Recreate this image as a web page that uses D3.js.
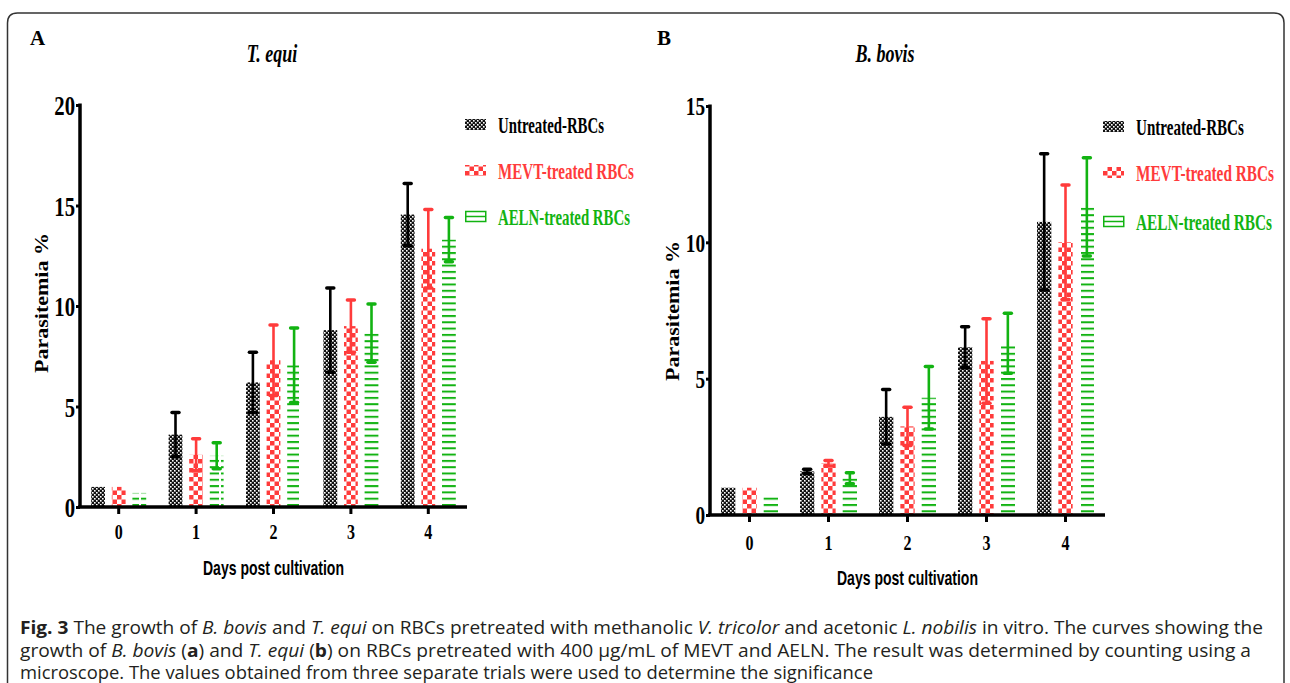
<!DOCTYPE html>
<html>
<head>
<meta charset="utf-8">
<script src="https://cdn.jsdelivr.net/npm/d3@7"></script>
<style>
  body { margin: 0; background: #fff; }
  svg { display: block; }
</style>
</head>
<body>
<script>
// Growth of T. equi (A) and B. bovis (B) on pretreated RBCs
const days = ["0", "1", "2", "3", "4"];
const seriesNames = ["Untreated-RBCs", "MEVT-treated RBCs", "AELN-treated RBCs"];

// panel A - T. equi, parasitemia %
const tequiUntreated = [1.0, 3.6, 6.2, 8.8, 14.55];
const tequiUntreatedErr = [0, 1.1, 1.5, 2.1, 1.55];
const tequiMevt = [1.0, 2.6, 7.3, 9.0, 12.85];
const tequiMevtErr = [0, 0.8, 1.75, 1.3, 1.95];
const tequiAeln = [0.7, 2.55, 7.05, 8.65, 13.3];
const tequiAelnErr = [0, 0.65, 1.85, 1.45, 1.1];
const tequiTicks = [0, 5, 10, 15, 20];

// panel B - B. bovis, parasitemia %
const bovisUntreated = [1.0, 1.6, 3.6, 6.15, 10.75];
const bovisUntreatedErr = [0, 0.08, 1.0, 0.75, 2.5];
const bovisMevt = [1.0, 1.9, 3.25, 5.65, 10.0];
const bovisMevtErr = [0, 0.1, 0.7, 1.55, 2.1];
const bovisAeln = [0.75, 1.35, 4.3, 6.3, 11.3];
const bovisAelnErr = [0, 0.2, 1.15, 1.1, 1.8];
const bovisTicks = [0, 5, 10, 15];

const colors = ["#000000", "#ff3b3b", "#12b312"];
const fills = ["url(#pat-black)", "url(#pat-red)", "url(#pat-green)"];

const width = 1290, height = 683;

const svg = d3.select("body").append("svg")
    .attr("width", width)
    .attr("height", height);

// Patterns for the bars
const defs = svg.append("defs");

const pb = defs.append("pattern").attr("id", "pat-black")
    .attr("patternUnits", "userSpaceOnUse").attr("width", 4).attr("height", 4);
pb.append("rect").attr("width", 4).attr("height", 4).attr("fill", "#111");
pb.append("rect").attr("x", 0).attr("y", 0).attr("width", 1.6).attr("height", 1.6).attr("fill", "#fff");
pb.append("rect").attr("x", 2).attr("y", 2).attr("width", 1.6).attr("height", 1.6).attr("fill", "#fff");

const pr = defs.append("pattern").attr("id", "pat-red")
    .attr("patternUnits", "userSpaceOnUse").attr("width", 9).attr("height", 9);
pr.append("rect").attr("width", 9).attr("height", 9).attr("fill", "#fff");
pr.append("rect").attr("x", 0).attr("y", 0).attr("width", 4.5).attr("height", 4.5).attr("fill", colors[1]);
pr.append("rect").attr("x", 4.5).attr("y", 4.5).attr("width", 4.5).attr("height", 4.5).attr("fill", colors[1]);

const pg = defs.append("pattern").attr("id", "pat-green")
    .attr("patternUnits", "userSpaceOnUse").attr("width", 20).attr("height", 6.3);
pg.append("rect").attr("x", 1).attr("y", 0).attr("width", 18).attr("height", 2).attr("fill", colors[2]);

// squeeze text to a given width (the original uses narrow fonts)
function fitWidth(sel, w) {
    sel.attr("textLength", w).attr("lengthAdjust", "spacingAndGlyphs");
}
function condense(sel, k) {
    sel.each(function () {
        const w = this.getComputedTextLength();
        d3.select(this).attr("textLength", w * k).attr("lengthAdjust", "spacingAndGlyphs");
    });
}
// horizontal scale so the real box matches the narrow look
function squeezeTo(sel, x, y, w) {
    sel.each(function () {
        const nat = this.getComputedTextLength();
        d3.select(this)
            .attr("x", 0).attr("y", 0)
            .attr("transform", `translate(${x},${y}) scale(${w / nat},1)`);
    });
}

// Outer frame (rounded top, open at bottom)
svg.append("path")
    .attr("d", "M7.5,700 L7.5,23 Q7.5,13 17.5,13 L1274,13 Q1284,13 1284,23 L1284,700")
    .attr("fill", "none")
    .attr("stroke", "#333")
    .attr("stroke-width", 1.5);

const panels = [
    {
        letter: "A", letterX: 30, title: "T. equi", titleX: 272,
        left: 80, right: 467, top: 105, bottom: 507, yMax: 20, ticks: tequiTicks,
        group: 55, tickFont: 28,
        means: [tequiUntreated, tequiMevt, tequiAeln],
        errs: [tequiUntreatedErr, tequiMevtErr, tequiAelnErr],
        legendX: 465, legendY: [125, 171, 217], legendW: [106, 136, 132],
        yLabelX: 42, yLabelY: 303, xLabelY: 575, xTickPad: 11
    },
    {
        letter: "B", letterX: 657, title: "B. bovis", titleX: 885,
        left: 710, right: 1105, top: 106, bottom: 515, yMax: 15, ticks: bovisTicks,
        group: 57, tickFont: 26,
        means: [bovisUntreated, bovisMevt, bovisAeln],
        errs: [bovisUntreatedErr, bovisMevtErr, bovisAelnErr],
        legendX: 1103, legendY: [127, 173, 222], legendW: [108, 138, 136],
        yLabelX: 673, yLabelY: 311, xLabelY: 585, xTickPad: 14
    }
];

panels.forEach(p => drawPanel(p));

function drawPanel(p) {
    const g = svg.append("g");

    const x = d3.scaleBand()
        .domain(days)
        .range([p.left, p.right]);

    const xs = d3.scaleBand()
        .domain(seriesNames)
        .range([x.bandwidth() / 2 - p.group / 2, x.bandwidth() / 2 + p.group / 2])
        .paddingInner(0.33);

    const y = d3.scaleLinear()
        .domain([0, p.yMax])
        .range([p.bottom, p.top]);

    // panel letter and title
    g.append("text")
        .attr("x", p.letterX).attr("y", 45)
        .attr("font-family", "Liberation Serif").attr("font-weight", "bold")
        .attr("font-size", 21)
        .text(p.letter);

    g.append("text")
        .attr("x", p.titleX).attr("y", 62)
        .attr("text-anchor", "middle")
        .attr("font-family", "Liberation Serif").attr("font-style", "italic")
        .attr("font-weight", "bold")
        .attr("font-size", 25)
        .text(p.title)
        .call(condense, 0.72);

    // bars
    seriesNames.forEach((name, si) => {
        const rows = days.map((d, i) => ({ day: d, v: p.means[si][i], e: p.errs[si][i] }));

        g.append("g")
            .selectAll("rect")
            .data(rows)
            .join("rect")
            .attr("x", d => x(d.day) + xs(name))
            .attr("y", d => y(d.v))
            .attr("width", xs.bandwidth())
            .attr("height", d => y(0) - y(d.v))
            .attr("fill", fills[si]);

        // error bars (mean +/- SD)
        const eb = g.append("g")
            .attr("stroke", colors[si])
            .selectAll("g")
            .data(rows.filter(d => d.e > 0))
            .join("g")
            .attr("transform", d => `translate(${x(d.day) + xs(name) + xs.bandwidth() / 2},0)`);

        eb.append("line")
            .attr("y1", d => y(d.v - d.e))
            .attr("y2", d => y(d.v + d.e))
            .attr("stroke-width", 2.6);

        eb.selectAll(".cap")
            .data(d => [d.v - d.e, d.v + d.e])
            .join("line")
            .attr("class", "cap")
            .attr("x1", -3.5).attr("x2", 3.5)
            .attr("y1", v => y(v)).attr("y2", v => y(v))
            .attr("stroke-width", 3.5)
            .attr("stroke-linecap", "round");
    });

    // axes
    const yAxis = g.append("g")
        .attr("transform", `translate(${p.left},0)`)
        .call(d3.axisLeft(y).tickValues(p.ticks).tickSize(4).tickSizeOuter(0).tickPadding(1));

    yAxis.select(".domain")
        .attr("d", `M0,${p.top - 1.5}V${p.bottom}`)
        .attr("stroke-width", 3.5);
    yAxis.selectAll(".tick line").attr("stroke-width", 3);
    yAxis.selectAll("text")
        .attr("font-family", "Liberation Serif").attr("font-weight", "bold")
        .attr("font-size", p.tickFont)
        .attr("dy", "0.34em")
        .call(condense, 0.74);

    const xAxis = g.append("g")
        .attr("transform", `translate(0,${p.bottom})`)
        .call(d3.axisBottom(x).tickSize(7).tickSizeOuter(0).tickPadding(p.xTickPad));

    xAxis.select(".domain")
        .attr("d", `M${p.left - 2},0H${p.right}`)
        .attr("stroke-width", 3.5);
    xAxis.selectAll(".tick line").attr("stroke-width", 3);
    xAxis.selectAll("text")
        .attr("font-family", "Liberation Serif").attr("font-weight", "bold")
        .attr("font-size", 20)
        .call(condense, 0.8);

    // axis titles
    g.append("text")
        .attr("x", (p.left + p.right) / 2).attr("y", p.xLabelY)
        .attr("text-anchor", "middle")
        .attr("font-family", "Liberation Sans").attr("font-weight", "bold")
        .attr("font-size", 21)
        .text("Days post cultivation")
        .call(fitWidth, 141);

    g.append("text")
        .attr("transform", `translate(${p.yLabelX + 6},${p.yLabelY}) rotate(-90)`)
        .attr("text-anchor", "middle")
        .attr("font-family", "Liberation Serif").attr("font-weight", "bold")
        .attr("font-size", 18)
        .text("Parasitemia %")
        .call(fitWidth, 140);

    // legend
    const lg = g.append("g").attr("transform", `translate(${p.legendX},0)`);
    seriesNames.forEach((name, si) => {
        const cy = p.legendY[si];
        if (si < 2) {
            lg.append("rect")
                .attr("x", 0).attr("y", cy - 6)
                .attr("width", 21).attr("height", 11)
                .attr("fill", fills[si]);
        } else {
            lg.append("rect")
                .attr("x", 0.75).attr("y", cy - 5.5)
                .attr("width", 20).attr("height", 10)
                .attr("fill", "none").attr("stroke", colors[si]).attr("stroke-width", 1.5);
            lg.append("line")
                .attr("x1", 0.75).attr("x2", 20.75)
                .attr("y1", cy - 0.5).attr("y2", cy - 0.5)
                .attr("stroke", colors[si]).attr("stroke-width", 1.5);
        }
        lg.append("text")
            .attr("font-family", "Liberation Serif").attr("font-weight", "bold")
            .attr("font-size", 23)
            .attr("fill", colors[si])
            .text(name)
            .call(squeezeTo, 33, cy + 8, p.legendW[si]);
    });
}

// Figure caption
const captionLines = [
    [["Fig. 3", "b"], [" The growth of ", ""], ["B. bovis", "i"], [" and ", ""], ["T. equi", "i"],
     [" on RBCs pretreated with methanolic ", ""], ["V. tricolor", "i"], [" and acetonic ", ""],
     ["L. nobilis", "i"], [" in vitro. The curves showing the", ""]],
    [["growth of ", ""], ["B. bovis", "i"], [" (", ""], ["a", "b"], [") and ", ""], ["T. equi", "i"],
     [" (", ""], ["b", "b"], [") on RBCs pretreated with 400 \u03bcg/mL of MEVT and AELN. The result was determined by counting using a", ""]],
    [["microscope. The values obtained from three separate trials were used to determine the significance", ""]]
];
const captionWidths = [1243, 1231, 853];

captionLines.forEach((parts, li) => {
    const t = svg.append("text")
        .attr("x", 20).attr("y", 634 + li * 22.5)
        .attr("font-family", "Open Sans, sans-serif")
        .attr("font-size", 18.5)
        .attr("fill", "#231f20");
    parts.forEach(([s, st]) => {
        t.append("tspan")
            .attr("font-weight", st === "b" ? "bold" : null)
            .attr("font-style", st === "i" ? "italic" : null)
            .text(s);
    });
    t.call(fitWidth, captionWidths[li]);
});
</script>
</body>
</html>
